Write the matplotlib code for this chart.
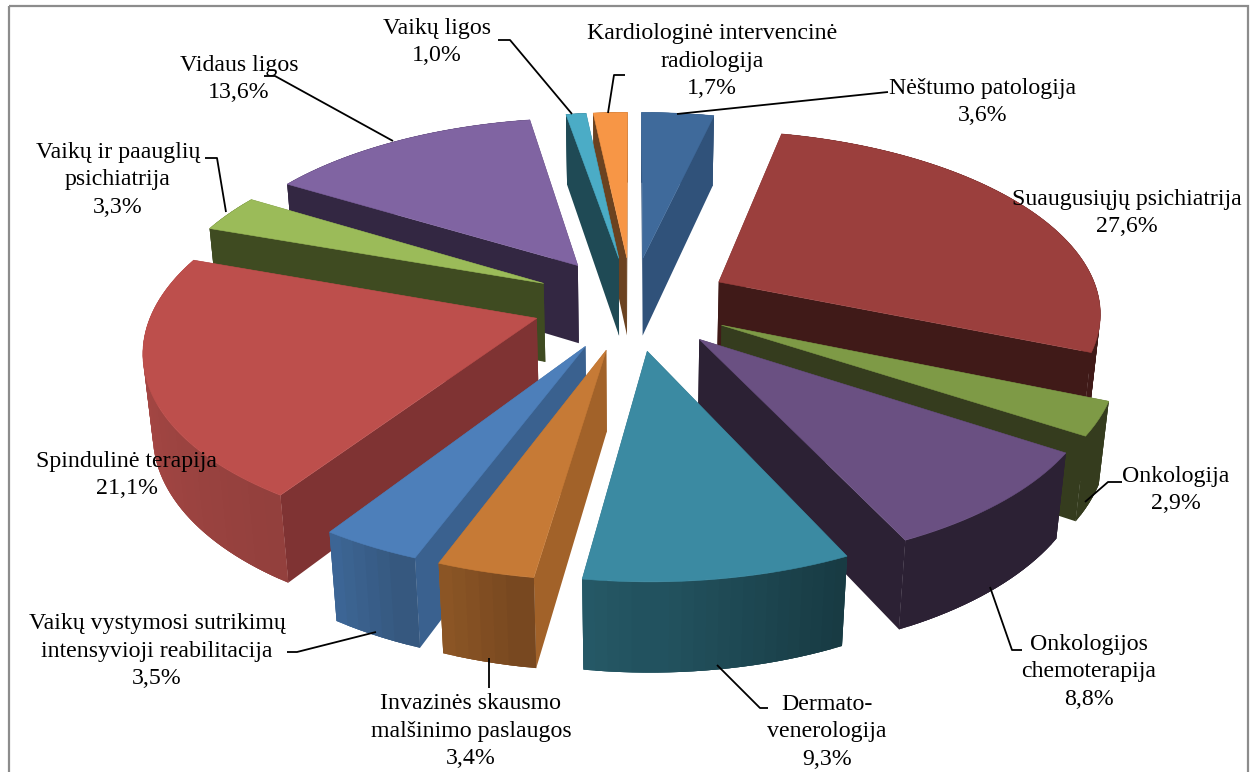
import numpy as np
import matplotlib
matplotlib.use("Agg")
import matplotlib.pyplot as plt
from matplotlib.colors import to_rgb
from matplotlib.patches import Polygon, Rectangle

plt.rcParams['font.family'] = ['Liberation Serif', 'DejaVu Serif']

# data, clockwise from 12 o'clock
names = ['Nėštumo patologija', 'Suaugusiųjų psichiatrija', 'Onkologija',
         'Onkologijos\nchemoterapija', 'Dermato-\nvenerologija',
         'Invazinės skausmo\nmalšinimo paslaugos',
         'Vaikų vystymosi sutrikimų\nintensyvioji reabilitacija',
         'Spindulinė terapija', 'Vaikų ir paauglių\npsichiatrija',
         'Vidaus ligos', 'Vaikų ligos', 'Kardiologinė intervencinė\nradiologija']
values = [3.6, 27.6, 2.9, 8.8, 9.3, 3.4, 3.5, 21.1, 3.3, 13.6, 1.0, 1.7]

# colours
top_colors = ['#3f6a9b', '#9b3f3d', '#7e9a46', '#6a5082', '#3b8aa2', '#c67a36',
              '#4d7fba', '#bd4f4c', '#9bbb59', '#8064a2', '#4bacc6', '#f79646']
side_colors = ['#30527a', '#401a18', '#353c1e', '#2c2134', '#245360', '#a26229',
               '#3a618f', '#7f3333', '#3f4b21', '#332742', '#1f4a55', '#6b4220']
rim_start = ['#30527a', '#401a18', '#353c1e', '#2c2134', '#173941', '#784820',
             '#36587f', '#93403d', '#3f4b21', '#332742', '#1f4a55', '#6b4220']
rim_end = ['#30527a', '#401a18', '#353c1e', '#2c2134', '#265a68', '#8f5826',
           '#3d6899', '#b44c49', '#3f4b21', '#332742', '#1f4a55', '#6b4220']

# label centres and leader lines, in pixels
label_pos = [(983, 102), (1127, 213), (1176, 490), (1089, 672), (827, 732), (471, 731),
             (157, 651), (127, 475), (118, 180), (239, 79), (437, 42), (712, 61)]
leaders = [[(677, 114), (888, 92)],
           [(1085, 502), (1108, 482), (1122, 482)],
           [(990, 587), (1012, 650), (1022, 650)],
           [(717, 665), (760, 708), (768, 708)],
           [(489, 658), (489, 688)],
           [(376, 632), (297, 652), (287, 652)],
           [(226, 212), (217, 158), (205, 158)],
           [(393, 141), (275, 76), (264, 76)],
           [(572, 114), (510, 40), (498, 40)],
           [(608, 113), (614, 75), (625, 75)]]

# camera
CX, CY = 632, 303
A, B, D = 382, 180, 81
K, KZ = 0.15, 0.02
EXPLODE = 0.26


def project(px, py, z=0.0):
    w = 1 + K * py + KZ * z
    return CX + A * px / w, CY - B * py / w + D * z / w


def mix(c1, c2, t):
    a, b = np.array(to_rgb(c1)), np.array(to_rgb(c2))
    return tuple(a + (b - a) * t)


fig = plt.figure(figsize=(12.58, 7.72), dpi=100)
ax = fig.add_axes([0, 0, 1, 1])
ax.set_xlim(0, 1258)
ax.set_ylim(772, 0)
ax.axis('off')
ax.add_patch(Rectangle((9, 6), 1239, 770, fill=False, ec='#8c8c8c', lw=1.6, zorder=0))

edges = np.cumsum([0] + values) / sum(values) * 2 * np.pi
order = sorted(range(len(values)),
               key=lambda i: -np.cos((edges[i] + edges[i + 1]) / 2))

z = 1
for i in order:
    t0, t1 = edges[i], edges[i + 1]
    mid = (t0 + t1) / 2
    ox, oy = EXPLODE * np.sin(mid), EXPLODE * np.cos(mid)
    th = np.linspace(t0, t1, max(4, int((t1 - t0) * 40)))
    xs, ys = ox + np.sin(th), oy + np.cos(th)

    faces = []
    for t in (t0, t1):
        ex, ey = ox + np.sin(t), oy + np.cos(t)
        quad = [project(ox, oy), project(ex, ey), project(ex, ey, 1), project(ox, oy, 1)]
        faces.append(((oy + ey) / 2, quad, side_colors[i]))
    n = len(th)
    for j in range(n - 1):
        # each strip reaches over its neighbours so no seams show between them
        lo, hi = max(j - 1, 0), min(j + 2, n - 1)
        upper = [project(xs[k], ys[k]) for k in range(lo, hi + 1)]
        lower = [project(xs[k], ys[k], 1) for k in range(hi, lo - 1, -1)]
        col = mix(rim_start[i], rim_end[i], j / (n - 2))
        faces.append(((ys[j] + ys[j + 1]) / 2, upper + lower, col))

    for _, quad, col in sorted(faces, key=lambda f: -f[0]):
        ax.add_patch(Polygon(quad, closed=True, fc=col, ec='none', zorder=z))
        z += 1
    outline = [project(ox, oy)] + [project(a, b) for a, b in zip(xs, ys)]
    ax.add_patch(Polygon(outline, closed=True, fc=top_colors[i], ec=top_colors[i],
                         lw=0.4, zorder=z))
    z += 1

for pts in leaders:
    ax.plot(*zip(*pts), color='black', lw=1.3, zorder=z, solid_capstyle='butt')
for name, v, (x, y) in zip(names, values, label_pos):
    label = name + '\n' + f'{v:.1f}%'.replace('.', ',')
    ax.text(x, y, label, ha='center', va='center', fontsize=17.2, color='black',
            linespacing=1.38, zorder=z + 1)

fig.savefig('out.png', dpi=100)
